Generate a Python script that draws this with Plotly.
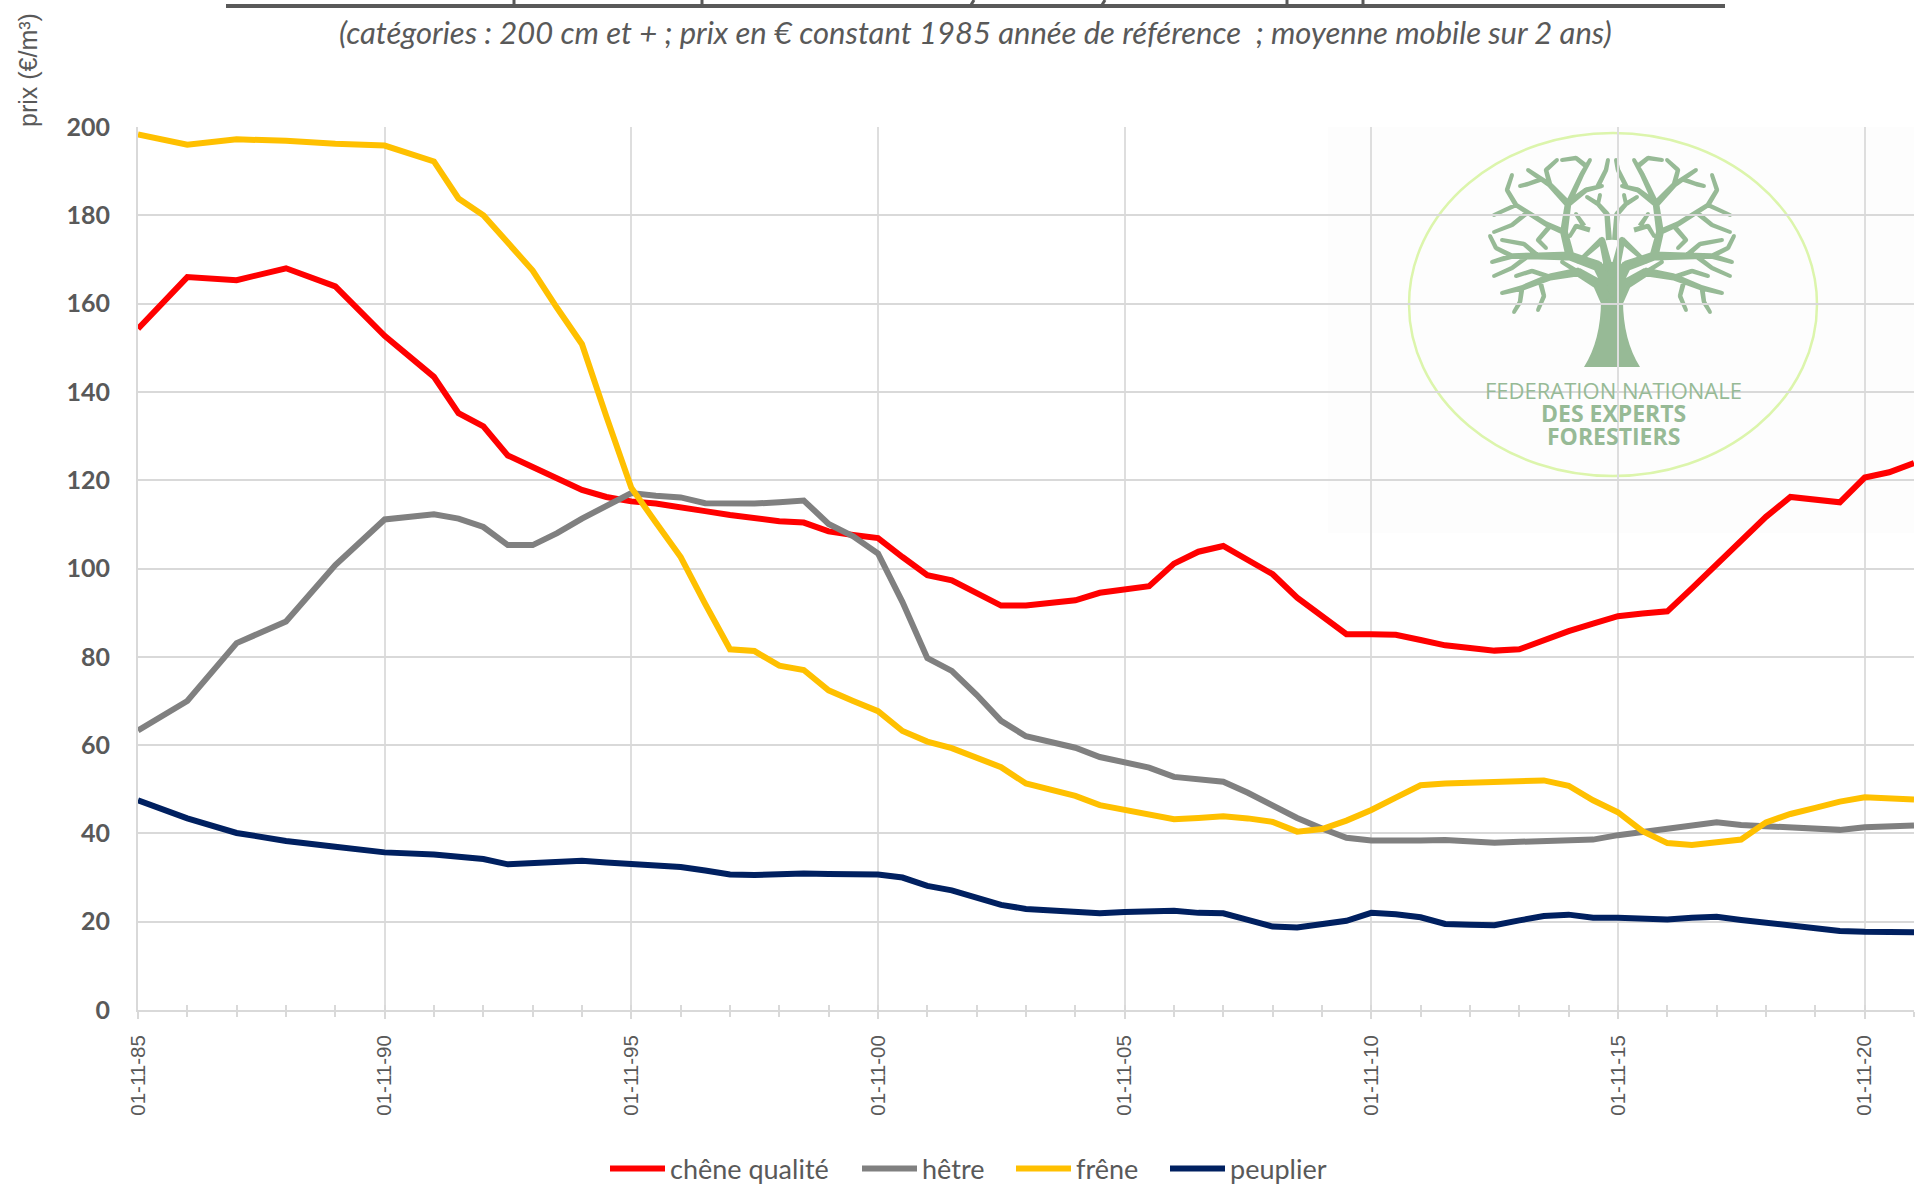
import math
import plotly.graph_objects as go

# ---------- data ----------
years = [0, 1, 2, 3, 4, 5, 6] + [6.5 + 0.5 * i for i in range(60)]
dates = [f"{1985 + int(t)}-11-01" if t == int(t) else f"{1986 + int(t)}-05-01" for t in years]

chene = [154.3, 166, 165.3, 168, 163.9, 152.7, 143.4,
         135.2, 132.2, 125.6, 123, 120.3, 117.8, 116.2, 115.2,
         114.7, 114, 113, 112.1, 111.4, 110.7, 110.4, 108.4, 107.6, 106.9,
         102.6, 98.5, 97.3, 94.4, 91.6, 91.6, 92.2, 92.8, 94.5, 95.3,
         96, 101.1, 103.8, 105.1, 101.9, 98.7, 93.4, 89.4, 85.1, 85.1,
         85, 83.8, 82.6, 82, 81.4, 81.7, 83.8, 85.8, 87.5, 89.2,
         89.8, 90.3, 95.5, 101, 106.4, 111.7, 116.2, 115.6, 115, 120.6, 121.8, 123.9]
hetre = [63.3, 70, 83.1, 88, 100.8, 111.1, 112.3,
         111.3, 109.4, 105.3, 105.3, 108, 111.3, 114, 117.1,
         116.5, 116.1, 114.8, 114.6, 114.7, 115, 115.4, 110.1, 107.3, 103.4,
         92.4, 79.7, 76.8, 71.4, 65.5, 62, 60.8, 59.4, 57.3, 56.1,
         54.9, 52.8, 52.2, 51.7, 49.2, 46.4, 43.5, 41.1, 39, 38.4,
         38.3, 38.4, 38.5, 38.2, 37.9, 38.1, 38.3, 38.5, 38.6, 39.6,
         40.4, 41.1, 41.8, 42.5, 41.9, 41.7, 41.3, 41.1, 40.8, 41.4, 41.5, 41.8]
frene = [198.3, 196, 197.2, 196.9, 196.2, 195.8, 192.2,
         183.8, 180, 173.8, 167.5, 159, 150.8, 134.4, 118.3,
         110.4, 102.6, 92, 81.7, 81.3, 78, 77, 72.4, 70, 67.7,
         63.2, 60.8, 59.3, 57.3, 55, 51.3, 49.9, 48.5, 46.4, 45.4,
         44.4, 43.2, 43.5, 43.9, 43.4, 42.6, 40.4, 41, 42.9, 45.3,
         48.1, 50.9, 51.3, 51.5, 51.6, 52.1, 52, 50.8, 47.5, 44.8,
         40.5, 37.8, 37.4, 38, 38.6, 42.5, 44.4, 45.8, 47.2, 48.2, 47.9, 47.7]
peuplier = [47.5, 43.4, 40.1, 38.3, 37, 35.7, 35.2,
            34.7, 34.2, 33, 33.3, 33.5, 33.8, 33.4, 33.1,
            32.9, 32.4, 31.6, 30.7, 30.6, 30.9, 30.9, 30.8, 30.8, 30.7,
            30, 28.1, 27.1, 25.6, 23.8, 22.9, 22.6, 22.2, 21.9, 22.2,
            22.4, 22.5, 22, 21.9, 20.4, 18.9, 18.7, 19.5, 20.2, 22,
            21.7, 21, 19.5, 19.3, 19.2, 20.3, 21.3, 21.6, 20.9, 20.9,
            20.7, 20.5, 20.9, 21.1, 20.4, 19.7, 19, 18.4, 17.9, 17.7, 17.7, 17.6]

series_names = ["chêne qualité", "hêtre", "frêne", "peuplier"]
series_colors = ["#ff0000", "#808080", "#ffc000", "#002060"]
series_values = [chene, hetre, frene, peuplier]

subtitle = "(catégories : 200 cm et + ; prix en € constant 1985 année de référence  ; moyenne mobile sur 2 ans)"
y_title = "prix (€/m³)"
logo_lines = ["FEDERATION NATIONALE", "DES EXPERTS", "FORESTIERS"]

# ---------- page geometry ----------
W, H = 1921, 1192
L, R, T, B = 138, 1914, 127, 1010
TXT = "#595959"
LOGO = "#97ba96"


def px(x):
    return (x - L) / (R - L)


def py(y):
    return (B - y) / (B - T)


def P(x, y):
    return f"{px(x):.5f},{py(y):.5f}"


shapes = []

# clipped title: its underline and the descenders that remain visible
shapes.append(dict(type="line", xref="paper", yref="paper", x0=px(226), x1=px(1725), y0=py(6), y1=py(6),
                   line=dict(color=TXT, width=4), layer="above"))
for sx in (514, 702, 1287, 1363):
    shapes.append(dict(type="line", xref="paper", yref="paper", x0=px(sx), x1=px(sx), y0=py(0), y1=py(6),
                       line=dict(color=TXT, width=3), layer="above"))
for sx in (971, 1102):
    shapes.append(dict(type="line", xref="paper", yref="paper", x0=px(sx + 3), x1=px(sx), y0=py(0), y1=py(5),
                       line=dict(color=TXT, width=3), layer="above"))

# logo: pale panel and ring
shapes.append(dict(type="rect", xref="paper", yref="paper", x0=px(1328), x1=px(1914), y0=py(533), y1=py(127),
                   fillcolor="#fdfdfd", line=dict(width=0), layer="below"))
shapes.append(dict(type="circle", xref="paper", yref="paper", x0=px(1409), x1=px(1817), y0=py(476), y1=py(133),
                   fillcolor="rgba(0,0,0,0)", line=dict(color="#dcf5ac", width=2.5), layer="below"))

# logo: tree drawn as a filled path
CX = 1612
branches = [
    (12, [(6, 300), (14, 284), (34, 272), (62, 277), (90, 288), (110, 293)]),
    (5, [(62, 277), (80, 271), (96, 276)]),
    (5, [(72, 281), (68, 296), (74, 310)]),
    (5, [(90, 288), (92, 302), (98, 312)]),
    (5, [(34, 272), (50, 262)]),
    (12, [(4, 285), (14, 266), (42, 256), (74, 256), (100, 256), (120, 262)]),
    (5, [(74, 256), (88, 244), (110, 240)]),
    (5, [(84, 256), (100, 268), (118, 276)]),
    (5, [(100, 256), (116, 248), (122, 236)]),
    (9, [(3, 270), (10, 240), (34, 262)]),
    (9, [(42, 256), (48, 232), (44, 204), (26, 190), (10, 186)]),
    (7, [(44, 204), (62, 185), (84, 170)]),
    (5, [(62, 185), (66, 170), (55, 160)]),
    (5, [(70, 179), (84, 184), (92, 186)]),
    (6, [(48, 232), (66, 224), (96, 205), (118, 215)]),
    (5, [(96, 205), (105, 190), (100, 175)]),
    (5, [(84, 212), (100, 225), (118, 232)]),
    (5, [(62, 226), (74, 240), (66, 248)]),
    (6, [(44, 204), (30, 174), (22, 160)]),
    (5, [(26, 166), (36, 158), (50, 160)]),
    (5, [(14, 186), (6, 170), (4, 160)]),
    (6, [(3, 240), (5, 214), (14, 204), (25, 197)]),
    (4, [(14, 204), (12, 195)]),
    (5, [(22, 230), (36, 226), (42, 236)]),
    (5, [(28, 226), (36, 214)]),
]


def poly(pts):
    area = sum(pts[i][0] * pts[(i + 1) % len(pts)][1] - pts[(i + 1) % len(pts)][0] * pts[i][1] for i in range(len(pts)))
    if area < 0:
        pts = pts[::-1]
    return "M" + "L".join(P(*a) for a in pts) + "Z"


def seg(p, q, w0, w1):
    dx, dy = q[0] - p[0], q[1] - p[1]
    d = math.hypot(dx, dy) or 1
    nx, ny = -dy / d, dx / d
    return poly([(p[0] + nx * w0 / 2, p[1] + ny * w0 / 2), (q[0] + nx * w1 / 2, q[1] + ny * w1 / 2),
                 (q[0] - nx * w1 / 2, q[1] - ny * w1 / 2), (p[0] - nx * w0 / 2, p[1] - ny * w0 / 2)])


def disc(c, w):
    return poly([(c[0] + w / 2 * math.cos(k * math.pi / 4), c[1] + w / 2 * math.sin(k * math.pi / 4)) for k in range(8)])


tree = []
for side in (1, -1):
    for w0, line in branches:
        pts = [(CX + side * a, b) for a, b in line]
        n = len(pts) - 1
        for i in range(n):
            a0 = w0 + (4 - w0) * i / n
            a1 = w0 + (4 - w0) * (i + 1) / n
            tree.append(seg(pts[i], pts[i + 1], a0, a1))
            tree.append(disc(pts[i + 1], a1))
trunk = ("M" + P(1584, 367) + "Q" + P(1601, 340) + " " + P(1601, 300) + "L" + P(1603, 262) + "L" + P(1621, 262)
         + "L" + P(1623, 300) + "Q" + P(1623, 340) + " " + P(1640, 367) + "Z")
shapes.append(dict(type="path", xref="paper", yref="paper", path=trunk, fillcolor=LOGO, line=dict(width=0), layer="below"))
shapes.append(dict(type="path", xref="paper", yref="paper", path="".join(tree), fillcolor=LOGO, fillrule="nonzero",
                   line=dict(width=0), layer="below"))

# ---------- figure ----------
fig = go.Figure()
legend_ids = ["legend", "legend2", "legend3", "legend4"]
for name, color, vals, lg in zip(series_names, series_colors, series_values, legend_ids):
    fig.add_trace(go.Scatter(x=dates, y=vals, name=name, mode="lines", legend=lg,
                             line=dict(color=color, width=6, shape="linear"), hoverinfo="x+y+name"))
# carrier for the upper half of the yearly crossing ticks
fig.add_trace(go.Scatter(x=dates, y=peuplier, xaxis="x2", mode="lines", line=dict(width=0), opacity=0,
                         showlegend=False, hoverinfo="skip"))

annotations = [
    dict(x=px(975), y=py(32), xref="paper", yref="paper", text=f"<i>{subtitle}</i>", showarrow=False,
         xanchor="center", yanchor="middle", font=dict(family="Lato", size=31, color=TXT)),
    dict(x=px(28), y=py(70), xref="paper", yref="paper", text=y_title, textangle=-90, showarrow=False,
         xanchor="center", yanchor="middle", font=dict(family="Liberation Sans", size=25, color=TXT)),
    dict(x=px(1613), y=py(390), xref="paper", yref="paper", text=logo_lines[0], showarrow=False,
         xanchor="center", yanchor="middle", font=dict(family="Open Sans", size=22, color=LOGO)),
    dict(x=px(1613), y=py(413), xref="paper", yref="paper", text=f"<b>{logo_lines[1]}</b>", showarrow=False,
         xanchor="center", yanchor="middle", font=dict(family="Open Sans", size=23, color=LOGO)),
    dict(x=px(1613), y=py(436), xref="paper", yref="paper", text=f"<b>{logo_lines[2]}</b>", showarrow=False,
         xanchor="center", yanchor="middle", font=dict(family="Open Sans", size=23, color=LOGO)),
]

xrange_ = ["1985-11-01", "2021-11-01"]
legend_common = dict(orientation="h", xanchor="left", y=py(1169), yanchor="middle", itemwidth=55,
                     font=dict(family="Lato", size=27, color=TXT), bgcolor="rgba(0,0,0,0)",
                     itemclick=False, itemdoubleclick=False, borderwidth=0)
fig.update_layout(
    width=W, height=H, margin=dict(l=L, r=W - R, t=T, b=H - B, autoexpand=False),
    paper_bgcolor="white", plot_bgcolor="rgba(0,0,0,0)", shapes=shapes, annotations=annotations,
    hovermode="closest",
    xaxis=dict(type="date", range=xrange_, tick0="1985-11-01", dtick="M60", tickformat="%d-%m-%y", tickangle=-90,
               showline=True, linecolor="#d9d9d9", linewidth=2, showgrid=True, gridcolor="#dedede", gridwidth=2,
               ticks="outside", ticklen=7, tickcolor="#d9d9d9", tickwidth=2, ticklabelstandoff=8,
               tickfont=dict(family="Liberation Sans", size=20.5, color=TXT), zeroline=False,
               minor=dict(ticks="outside", dtick="M12", tick0="1985-11-01", ticklen=5, tickcolor="#d9d9d9",
                          tickwidth=2, showgrid=False)),
    xaxis2=dict(type="date", range=xrange_, overlaying="x", anchor="y", side="bottom", tick0="1985-11-01", dtick="M12",
                ticks="inside", ticklen=5, tickcolor="#d9d9d9", tickwidth=2, showticklabels=False, showgrid=False,
                showline=False, zeroline=False),
    yaxis=dict(range=[0, 200], tick0=0, dtick=20, showline=True, linecolor="#d9d9d9", linewidth=2,
               showgrid=True, gridcolor="#d9d9d9", gridwidth=2, zeroline=False, ticks="", ticklabelstandoff=21,
               tickfont=dict(family="Lato", size=25, color=TXT, weight="bold")),
    showlegend=True,
    legend=dict(x=px(605), **legend_common),
    legend2=dict(x=px(857), **legend_common),
    legend3=dict(x=px(1011), **legend_common),
    legend4=dict(x=px(1165), **legend_common),
)

fig.write_html("out.html", config=dict(displayModeBar=False),
               post_script="document.body.style.margin='0';document.body.style.overflow='hidden';")
